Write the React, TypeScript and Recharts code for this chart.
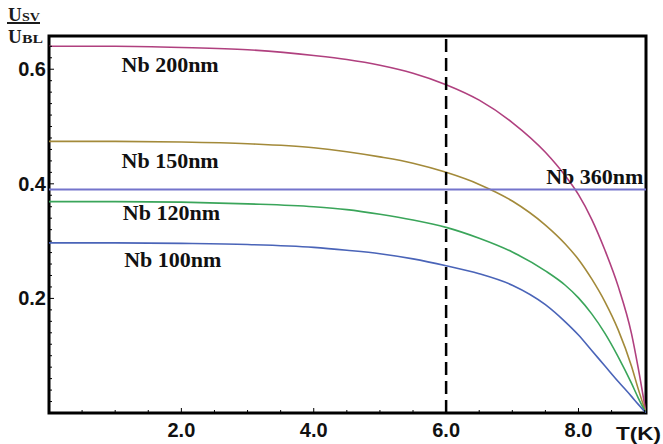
import {
  Line,
  LineChart,
  ReferenceArea,
  ReferenceDot,
  ReferenceLine,
  XAxis,
  YAxis,
} from "recharts";

// temperature (K) and normalised barrier U_SV / U_BL for each Nb thickness
const temps = [0, 1, 2, 3, 4, 4.5, 5, 5.5, 6, 6.5, 7, 7.5, 7.8, 8.0, 8.2, 8.4, 8.6, 8.8, 8.9, 9.02];
const nb200 = [0.64, 0.64, 0.638, 0.634, 0.624, 0.617, 0.607, 0.593, 0.573, 0.546, 0.507, 0.455, 0.414, 0.381, 0.338, 0.284, 0.221, 0.139, 0.08, 0];
const nb150 = [0.474, 0.474, 0.473, 0.47, 0.463, 0.456, 0.447, 0.436, 0.42, 0.399, 0.37, 0.328, 0.295, 0.268, 0.234, 0.194, 0.145, 0.082, 0.043, 0];
const nb120 = [0.369, 0.369, 0.368, 0.365, 0.36, 0.355, 0.347, 0.337, 0.324, 0.305, 0.281, 0.248, 0.223, 0.201, 0.173, 0.139, 0.098, 0.052, 0.027, 0];
const nb100 = [0.297, 0.297, 0.296, 0.294, 0.289, 0.284, 0.278, 0.269, 0.257, 0.243, 0.223, 0.189, 0.159, 0.136, 0.109, 0.082, 0.055, 0.029, 0.0155, 0];
const nb360 = [0.39, 0.39, 0.39, 0.39, 0.39, 0.39, 0.39, 0.39, 0.39, 0.39, 0.39, 0.39, 0.39, 0.39, 0.39, 0.39, 0.39, 0.39, 0.39, 0.39];

const xTicks = [0.5, 1, 1.5, 2, 2.5, 3, 3.5, 4, 4.5, 5, 5.5, 6, 6.5, 7, 7.5, 8, 8.5, 9];
const xLabels = [2, 4, 6, 8];
const yTicks = [
  0.02, 0.04, 0.06, 0.08, 0.1, 0.12, 0.14, 0.16, 0.18, 0.2, 0.22, 0.24, 0.26, 0.28, 0.3, 0.32,
  0.34, 0.36, 0.38, 0.4, 0.42, 0.44, 0.46, 0.48, 0.5, 0.52, 0.54, 0.56, 0.58, 0.6, 0.62, 0.64,
];
const yLabels = [0.2, 0.4, 0.6];

const T_MAX = 9.02;
const Y_MAX = 0.658;

const data = temps.map((t, i) => ({
  t,
  nb200: nb200[i],
  nb150: nb150[i],
  nb120: nb120[i],
  nb100: nb100[i],
  nb360: nb360[i],
}));

const sans = "'Liberation Sans', Arial, sans-serif";
const serif = "'Liberation Serif', 'Times New Roman', serif";

function XTick({ x, y, payload }: any) {
  const v = payload.value;
  const labelled = xLabels.includes(v);
  return (
    <g>
      <line x1={x} x2={x} y1={y} y2={y - (labelled ? 5 : 3)} stroke="#000" strokeWidth={1} />
      {labelled && (
        <text x={x} y={y + 24} textAnchor="middle" fontFamily={sans} fontWeight="bold" fontSize={20} fill="#111">
          {v.toFixed(1)}
        </text>
      )}
    </g>
  );
}

function YTick({ x, y, payload }: any) {
  const v = payload.value;
  const labelled = yLabels.some((l) => Math.abs(l - v) < 1e-6);
  return (
    <g>
      <line x1={x} x2={x + (labelled ? 5 : 3)} y1={y} y2={y} stroke="#000" strokeWidth={1} />
      {labelled && (
        <text x={x - 3} y={y + 7} textAnchor="end" fontFamily={sans} fontWeight="bold" fontSize={20} fill="#111">
          {v.toFixed(1)}
        </text>
      )}
    </g>
  );
}

const curveLabel = (text: string, anchor: "middle" | "end") => (props: any) => {
  const { x, y } = props.viewBox;
  return (
    <text x={x} y={y} textAnchor={anchor} fontFamily={serif} fontWeight="bold" fontSize={22} fill="#111">
      {text}
    </text>
  );
};

export default function App() {
  return (
    <div style={{ position: "relative", width: 663, height: 444 }}>
      <style>{"body { margin: 0; }"}</style>
      <LineChart
        width={663}
        height={444}
        data={data}
        margin={{ top: 36, right: 17, left: 0, bottom: 0 }}>
        <XAxis
          dataKey="t"
          type="number"
          domain={[0, T_MAX]}
          ticks={xTicks}
          interval={0}
          tick={<XTick />}
          tickLine={false}
          tickSize={0}
          tickMargin={0}
          axisLine={false}
          height={31}
          allowDataOverflow
        />
        <YAxis
          type="number"
          domain={[0, Y_MAX]}
          ticks={yTicks}
          interval={0}
          tick={<YTick />}
          tickLine={false}
          tickSize={0}
          tickMargin={0}
          axisLine={false}
          width={49}
          allowDataOverflow
        />
        <Line type="monotone" dataKey="nb200" stroke="#b0407f" strokeWidth={1.6} dot={false} isAnimationActive={false} />
        <Line type="monotone" dataKey="nb150" stroke="#a38a3a" strokeWidth={1.6} dot={false} isAnimationActive={false} />
        <Line type="monotone" dataKey="nb120" stroke="#3aa55a" strokeWidth={1.6} dot={false} isAnimationActive={false} />
        <Line type="monotone" dataKey="nb100" stroke="#4a64b8" strokeWidth={1.6} dot={false} isAnimationActive={false} />
        <Line type="linear" dataKey="nb360" stroke="#7474cc" strokeWidth={2} dot={false} isAnimationActive={false} />
        <ReferenceLine x={6} stroke="#000" strokeWidth={2.5} strokeDasharray="13 6" />
        <ReferenceArea x1={0} x2={T_MAX} y1={0} y2={Y_MAX} fill="none" fillOpacity={0} stroke="#000" strokeWidth={3} />
        <ReferenceDot x={1.83} y={0.596} r={0} fill="none" stroke="none" label={curveLabel("Nb 200nm", "middle")} />
        <ReferenceDot x={1.83} y={0.428} r={0} fill="none" stroke="none" label={curveLabel("Nb 150nm", "middle")} />
        <ReferenceDot x={1.85} y={0.336} r={0} fill="none" stroke="none" label={curveLabel("Nb 120nm", "middle")} />
        <ReferenceDot x={1.87} y={0.254} r={0} fill="none" stroke="none" label={curveLabel("Nb 100nm", "middle")} />
        <ReferenceDot x={8.98} y={0.4} r={0} fill="none" stroke="none" label={curveLabel("Nb 360nm", "end")} />
      </LineChart>
      <svg
        width={663}
        height={444}
        style={{ position: "absolute", left: 0, top: 0, pointerEvents: "none" }}>
        <g fontFamily={serif} fontWeight="bold" fill="#1b1b1b">
          <text x={8} y={21} fontSize={19}>U</text>
          <text x={22} y={21} fontSize={12} textLength={18} lengthAdjust="spacingAndGlyphs">SV</text>
          <line x1={7} x2={40} y1={23} y2={23} stroke="#1b1b1b" strokeWidth={2} />
          <text x={8} y={43} fontSize={19}>U</text>
          <text x={22} y={43} fontSize={12} textLength={21} lengthAdjust="spacingAndGlyphs">BL</text>
        </g>
        <text x={616} y={440} fontFamily={sans} fontWeight="bold" fontSize={19} fill="#111" textLength={45} lengthAdjust="spacingAndGlyphs">
          T(K)
        </text>
      </svg>
    </div>
  );
}
